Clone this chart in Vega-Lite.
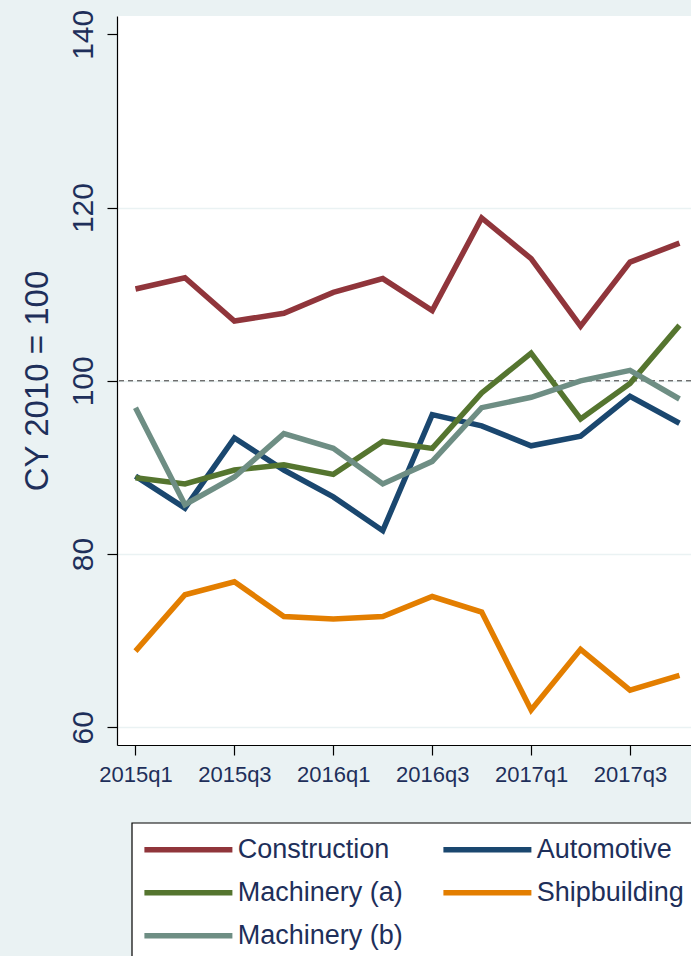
{
  "$schema": "https://vega.github.io/schema/vega-lite/v6.json",
  "autosize": "none",
  "width": 574,
  "height": 729,
  "padding": {"left": 117, "top": 16, "right": 0, "bottom": 211},
  "background": "#EAF2F3",
  "config": {
    "view": {"fill": "white", "stroke": null},
    "font": "Liberation Sans",
    "axis": {
      "domainColor": "black",
      "domainWidth": 1.2,
      "tickColor": "black",
      "tickWidth": 1.2,
      "tickSize": 10,
      "labelColor": "#1E2F5A",
      "titleColor": "#1E2F5A",
      "labelFont": "Liberation Sans",
      "titleFont": "Liberation Sans",
      "titleFontWeight": "normal"
    },
    "legend": {
      "orient": "none",
      "legendX": 14.7,
      "legendY": 806.7,
      "columns": 2,
      "direction": "horizontal",
      "symbolType": "M -1.3 0 L 6.7 0",
      "symbolSize": 484,
      "symbolStrokeWidth": 5.5,
      "symbolFillColor": "transparent",
      "labelFontSize": 27,
      "labelFont": "Liberation Sans",
      "labelColor": "#1E2F5A",
      "labelOffset": 65,
      "labelLimit": 0,
      "fillColor": "white",
      "strokeColor": "black",
      "strokeWidth": 1.2,
      "padding": 13,
      "rowPadding": 16,
      "columnPadding": 28
    }
  },
  "datasets": {
    "rows": [
      {"quarter": "2015q1", "t": 0, "series": "Construction", "value": 110.6},
      {"quarter": "2015q2", "t": 1, "series": "Construction", "value": 111.9},
      {"quarter": "2015q3", "t": 2, "series": "Construction", "value": 106.9},
      {"quarter": "2015q4", "t": 3, "series": "Construction", "value": 107.8},
      {"quarter": "2016q1", "t": 4, "series": "Construction", "value": 110.2},
      {"quarter": "2016q2", "t": 5, "series": "Construction", "value": 111.8},
      {"quarter": "2016q3", "t": 6, "series": "Construction", "value": 108.1},
      {"quarter": "2016q4", "t": 7, "series": "Construction", "value": 118.8},
      {"quarter": "2017q1", "t": 8, "series": "Construction", "value": 114.1},
      {"quarter": "2017q2", "t": 9, "series": "Construction", "value": 106.3},
      {"quarter": "2017q3", "t": 10, "series": "Construction", "value": 113.7},
      {"quarter": "2017q4", "t": 11, "series": "Construction", "value": 115.9},
      {"quarter": "2015q1", "t": 0, "series": "Automotive", "value": 89.0},
      {"quarter": "2015q2", "t": 1, "series": "Automotive", "value": 85.3},
      {"quarter": "2015q3", "t": 2, "series": "Automotive", "value": 93.4},
      {"quarter": "2015q4", "t": 3, "series": "Automotive", "value": 89.7},
      {"quarter": "2016q1", "t": 4, "series": "Automotive", "value": 86.6},
      {"quarter": "2016q2", "t": 5, "series": "Automotive", "value": 82.7},
      {"quarter": "2016q3", "t": 6, "series": "Automotive", "value": 96.1},
      {"quarter": "2016q4", "t": 7, "series": "Automotive", "value": 94.8},
      {"quarter": "2017q1", "t": 8, "series": "Automotive", "value": 92.5},
      {"quarter": "2017q2", "t": 9, "series": "Automotive", "value": 93.6},
      {"quarter": "2017q3", "t": 10, "series": "Automotive", "value": 98.2},
      {"quarter": "2017q4", "t": 11, "series": "Automotive", "value": 95.1},
      {"quarter": "2015q1", "t": 0, "series": "Machinery (a)", "value": 88.8},
      {"quarter": "2015q2", "t": 1, "series": "Machinery (a)", "value": 88.1},
      {"quarter": "2015q3", "t": 2, "series": "Machinery (a)", "value": 89.7},
      {"quarter": "2015q4", "t": 3, "series": "Machinery (a)", "value": 90.3},
      {"quarter": "2016q1", "t": 4, "series": "Machinery (a)", "value": 89.2},
      {"quarter": "2016q2", "t": 5, "series": "Machinery (a)", "value": 93.0},
      {"quarter": "2016q3", "t": 6, "series": "Machinery (a)", "value": 92.2},
      {"quarter": "2016q4", "t": 7, "series": "Machinery (a)", "value": 98.6},
      {"quarter": "2017q1", "t": 8, "series": "Machinery (a)", "value": 103.2},
      {"quarter": "2017q2", "t": 9, "series": "Machinery (a)", "value": 95.6},
      {"quarter": "2017q3", "t": 10, "series": "Machinery (a)", "value": 99.7},
      {"quarter": "2017q4", "t": 11, "series": "Machinery (a)", "value": 106.4},
      {"quarter": "2015q1", "t": 0, "series": "Shipbuilding", "value": 68.8},
      {"quarter": "2015q2", "t": 1, "series": "Shipbuilding", "value": 75.3},
      {"quarter": "2015q3", "t": 2, "series": "Shipbuilding", "value": 76.8},
      {"quarter": "2015q4", "t": 3, "series": "Shipbuilding", "value": 72.8},
      {"quarter": "2016q1", "t": 4, "series": "Shipbuilding", "value": 72.5},
      {"quarter": "2016q2", "t": 5, "series": "Shipbuilding", "value": 72.8},
      {"quarter": "2016q3", "t": 6, "series": "Shipbuilding", "value": 75.1},
      {"quarter": "2016q4", "t": 7, "series": "Shipbuilding", "value": 73.3},
      {"quarter": "2017q1", "t": 8, "series": "Shipbuilding", "value": 62.0},
      {"quarter": "2017q2", "t": 9, "series": "Shipbuilding", "value": 69.0},
      {"quarter": "2017q3", "t": 10, "series": "Shipbuilding", "value": 64.3},
      {"quarter": "2017q4", "t": 11, "series": "Shipbuilding", "value": 66.0},
      {"quarter": "2015q1", "t": 0, "series": "Machinery (b)", "value": 96.9},
      {"quarter": "2015q2", "t": 1, "series": "Machinery (b)", "value": 85.7},
      {"quarter": "2015q3", "t": 2, "series": "Machinery (b)", "value": 88.9},
      {"quarter": "2015q4", "t": 3, "series": "Machinery (b)", "value": 93.9},
      {"quarter": "2016q1", "t": 4, "series": "Machinery (b)", "value": 92.2},
      {"quarter": "2016q2", "t": 5, "series": "Machinery (b)", "value": 88.1},
      {"quarter": "2016q3", "t": 6, "series": "Machinery (b)", "value": 90.7},
      {"quarter": "2016q4", "t": 7, "series": "Machinery (b)", "value": 96.9},
      {"quarter": "2017q1", "t": 8, "series": "Machinery (b)", "value": 98.1},
      {"quarter": "2017q2", "t": 9, "series": "Machinery (b)", "value": 100.0},
      {"quarter": "2017q3", "t": 10, "series": "Machinery (b)", "value": 101.2},
      {"quarter": "2017q4", "t": 11, "series": "Machinery (b)", "value": 97.9}
    ]
  },
  "layer": [
    {
      "data": {"values": [{"ref": 100}]},
      "mark": {"type": "rule", "strokeDash": [5, 4], "color": "#333333", "strokeWidth": 1},
      "encoding": {
        "y": {"field": "ref", "type": "quantitative"}
      }
    },
    {
      "data": {"name": "rows"},
      "mark": {"type": "line", "strokeWidth": 5.5, "strokeJoin": "miter", "strokeCap": "butt"},
      "encoding": {
        "x": {
          "field": "t",
          "type": "quantitative",
          "scale": {"domain": [-0.374, 11.233], "nice": false, "zero": false},
          "axis": {
            "values": [0, 2, 4, 6, 8, 10],
            "labelExpr": "['2015q1','2015q3','2016q1','2016q3','2017q1','2017q3'][datum.value / 2]",
            "labelFontSize": 22,
            "labelPadding": 9,
            "grid": false,
            "title": null
          }
        },
        "y": {
          "field": "value",
          "type": "quantitative",
          "scale": {"domain": [57.96, 142.11], "nice": false, "zero": false},
          "axis": {
            "values": [60, 80, 100, 120, 140],
            "title": "CY 2010 = 100",
            "titleFontSize": 33,
            "titleAngle": -90,
            "titleX": -70,
            "titleY": 364.5,
            "titleAlign": "center",
            "titleBaseline": "alphabetic",
            "labelAngle": -90,
            "labelAlign": "center",
            "labelBaseline": "alphabetic",
            "labelPadding": 15,
            "labelFontSize": 30,
            "grid": true,
            "gridWidth": 1.5,
            "gridColor": {"condition": {"test": "datum.value == 140", "value": "transparent"}, "value": "#EAF2F3"}
          }
        },
        "color": {
          "field": "series",
          "type": "nominal",
          "scale": {
            "domain": ["Construction", "Automotive", "Machinery (a)", "Shipbuilding", "Machinery (b)"],
            "range": ["#90353B", "#1A476F", "#55752F", "#E37E00", "#6E8E84"]
          },
          "legend": {"title": null}
        }
      }
    }
  ]
}
